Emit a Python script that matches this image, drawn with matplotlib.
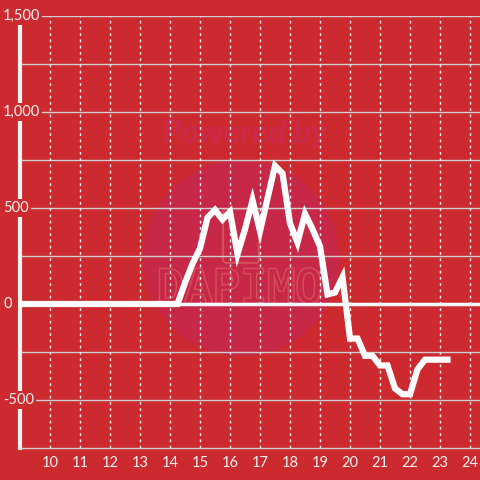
import numpy as np
import matplotlib
matplotlib.use("Agg")
import matplotlib.pyplot as plt
import matplotlib.patheffects as pe
from matplotlib.patches import Circle, FancyBboxPatch

# data: quarter-hour values
hours = np.arange(9.0, 23.26, 0.25)
rise = [110, 210, 290, 450, 490, 440, 480, 260, 390, 540, 380, 550, 720, 680,
        420, 320, 470, 390, 300, 50, 60, 140, -180, -180, -270, -270, -320, -320,
        -440, -470, -470, -340, -290, -290, -290, -290]
values = [0] * (len(hours) - len(rise)) + rise

x_ticks = list(range(10, 25))
y_ticks = [-500, 0, 500, 1000, 1500]
y_labels = ["-500", "0", "500", "1,000", "1,500"]

bg = "#cc2a2f"
plt.rcParams['font.family'] = ['Lato', 'DejaVu Sans']

fig = plt.figure(figsize=(4.8, 4.8), dpi=100, facecolor=bg)
ax = fig.add_axes([20/480, 32/480, 460/480, 432/480])
ax.set_facecolor(bg)
ax.set_xlim(9.0, 24.333)
ax.set_ylim(-750, 1500)

# watermark (behind grid and line)
ft = fig.transFigure
ax.add_patch(Circle((241/480, 1 - 258/480), 98/480, transform=ft,
                    facecolor="#c82848", edgecolor="none", zorder=0.5, clip_on=False))
ax.text(245/480, 1 - 133/480, "Powered by", transform=ft, color="#c92a4a", fontsize=24,
        fontweight="bold", style="italic", ha="center", va="center", zorder=0.6)
ax.add_patch(FancyBboxPatch((226/480, 1 - 260/480), 30/480, 48/480,
                            boxstyle="round,pad=0.006", transform=ft, clip_on=False,
                            facecolor="none", edgecolor="#d6505a", lw=1.5, zorder=0.6))
ax.text(240/480, 1 - 290/480, "DAPIMO", transform=ft, color="#c82848", fontsize=33,
        family="DejaVu Sans Mono", ha="center", va="center", zorder=0.6,
        path_effects=[pe.withStroke(linewidth=2, foreground="#d6505a")])

# grid
for y in np.arange(-500, 1501, 250):
    ax.axhline(y, color="#cfcfcf", lw=1, zorder=1)
for x in x_ticks:
    ax.axvline(x, color="#f0f0f0", lw=1, ls=(0, (2, 2.5)), zorder=1)
ax.axhline(0, color="white", lw=2.5, zorder=2)

ax.plot(hours, values, color="white", lw=4.5, solid_joinstyle="miter", zorder=3)

for s in ["top", "right"]:
    ax.spines[s].set_visible(False)
ax.spines["left"].set_color("#f4f4f4")
ax.spines["left"].set_linewidth(3)
ax.spines["bottom"].set_color("#cfcfcf")
ax.spines["bottom"].set_linewidth(1)

ax.set_xticks(x_ticks)
ax.set_xticklabels([str(t) for t in x_ticks])
ax.tick_params(axis="x", length=0, pad=6, colors="#f4f4f4", labelsize=10.5)
ax.set_yticks([])

for v, lab in zip(y_ticks, y_labels):
    ax.annotate(lab, xy=(3/480, v), xycoords=("figure fraction", "data"),
                ha="left", va="center", color="#f4f4f4", fontsize=10.5,
                bbox=dict(facecolor=bg, edgecolor="none", pad=1.5), zorder=5,
                annotation_clip=False)

fig.savefig("out.png", dpi=100, facecolor=bg)
